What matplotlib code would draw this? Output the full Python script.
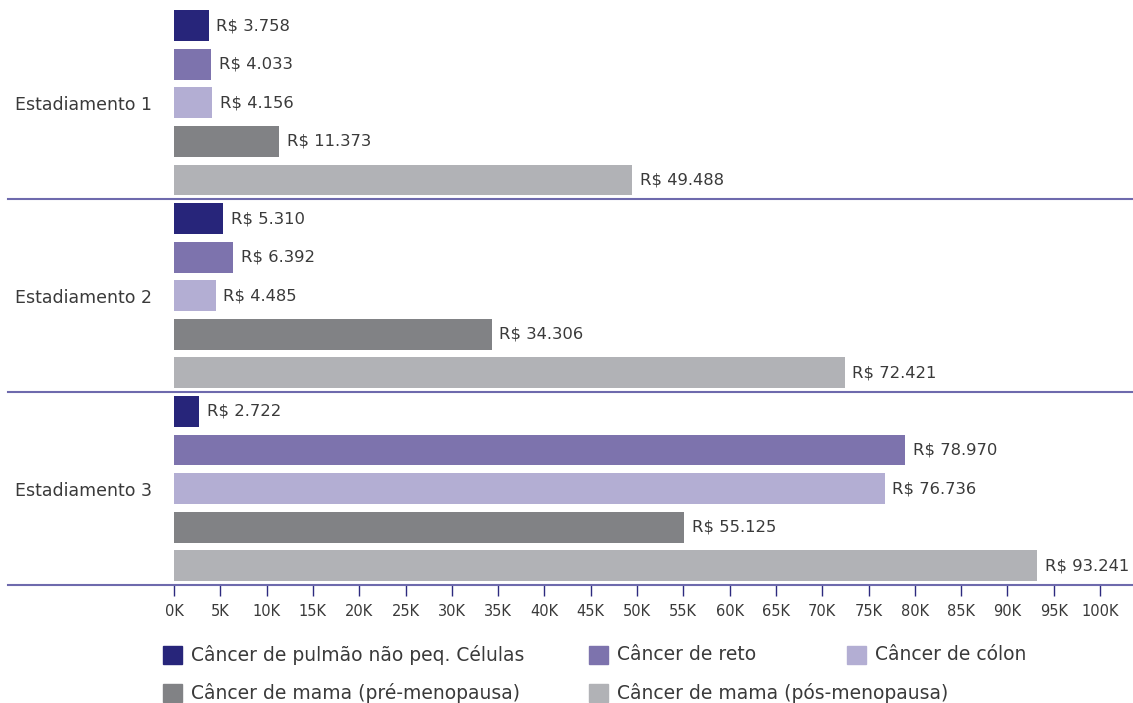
import matplotlib
matplotlib.use("Agg")
import matplotlib.pyplot as plt
import numpy as np
from matplotlib.patches import Rectangle
from matplotlib.transforms import blended_transform_factory

categories = ["Estadiamento 1", "Estadiamento 2", "Estadiamento 3"]
series_names = [
    "Câncer de pulmão não peq. Células",
    "Câncer de reto",
    "Câncer de cólon",
    "Câncer de mama (pré-menopausa)",
    "Câncer de mama (pós-menopausa)",
]
pulmao = [3758, 5310, 2722]
reto = [4033, 6392, 78970]
colon = [4156, 4485, 76736]
mama_pre = [11373, 34306, 55125]
mama_pos = [49488, 72421, 93241]
series_values = [pulmao, reto, colon, mama_pre, mama_pos]
colors = ["#27257a", "#7d73ad", "#b3aed3", "#818285", "#b1b2b6"]
x_ticks = list(range(0, 100001, 5000))
x_ticklabels = [f"{v // 1000}K" for v in x_ticks]

plt.rcParams['font.family'] = ['DejaVu Sans']
text_color = "#3a3a3a"

W, H = 1133, 703
fig = plt.figure(figsize=(W / 100, H / 100), dpi=100)
ax = fig.add_axes([174 / W, 1 - 585 / H, (1100 - 174) / W, (585 - 6.5) / H])

n = len(series_values)
step = 0.2
bh = 0.16
y = np.arange(len(categories))
for i, (vals, c) in enumerate(zip(series_values, colors)):
    pos = y + (i - (n - 1) / 2) * step
    ax.barh(pos, vals, height=bh, color=c, label=series_names[i])
    for p, v in zip(pos, vals):
        ax.annotate("R$ " + f"{v:,}".replace(",", "."), xy=(v, p), xytext=(5.5, 0),
                    textcoords="offset points", va="center", ha="left",
                    fontsize=11.8, color=text_color, annotation_clip=False)

ax.set_xlim(0, 100000)
ax.set_ylim(len(categories) - 0.5, -0.5)
ax.set_yticks(y)
ax.set_yticklabels(categories, fontsize=12.5, color=text_color)
ax.tick_params(axis="y", length=0, pad=16)
ax.set_xticks(x_ticks)
ax.set_xticklabels(x_ticklabels, fontsize=10.5, color=text_color)
ax.tick_params(axis="x", length=8, width=1, color="#2d2a7f", pad=6)
for s in ax.spines.values():
    s.set_visible(False)

# separator lines between groups and at the bottom
trans = blended_transform_factory(fig.transFigure, ax.transData)
for b in np.arange(0.5, len(categories), 1.0):
    ax.plot([8 / W, 1.0], [b, b], transform=trans, color="#6e6aad", lw=1.5, clip_on=False)

# manual legend
legend_pos = [(163, 655), (589, 655), (847, 655), (163, 693), (589, 693)]
sq = 18
for (px, py), name, c in zip(legend_pos, series_names, colors):
    fig.patches.append(Rectangle((px / W, 1 - (py + sq / 2) / H), (sq + 1) / W, sq / H,
                                 transform=fig.transFigure, color=c))
    fig.text((px + 28) / W, 1 - py / H, name, fontsize=13.5, color=text_color, va="center", ha="left")

fig.savefig("out.png", dpi=100)
